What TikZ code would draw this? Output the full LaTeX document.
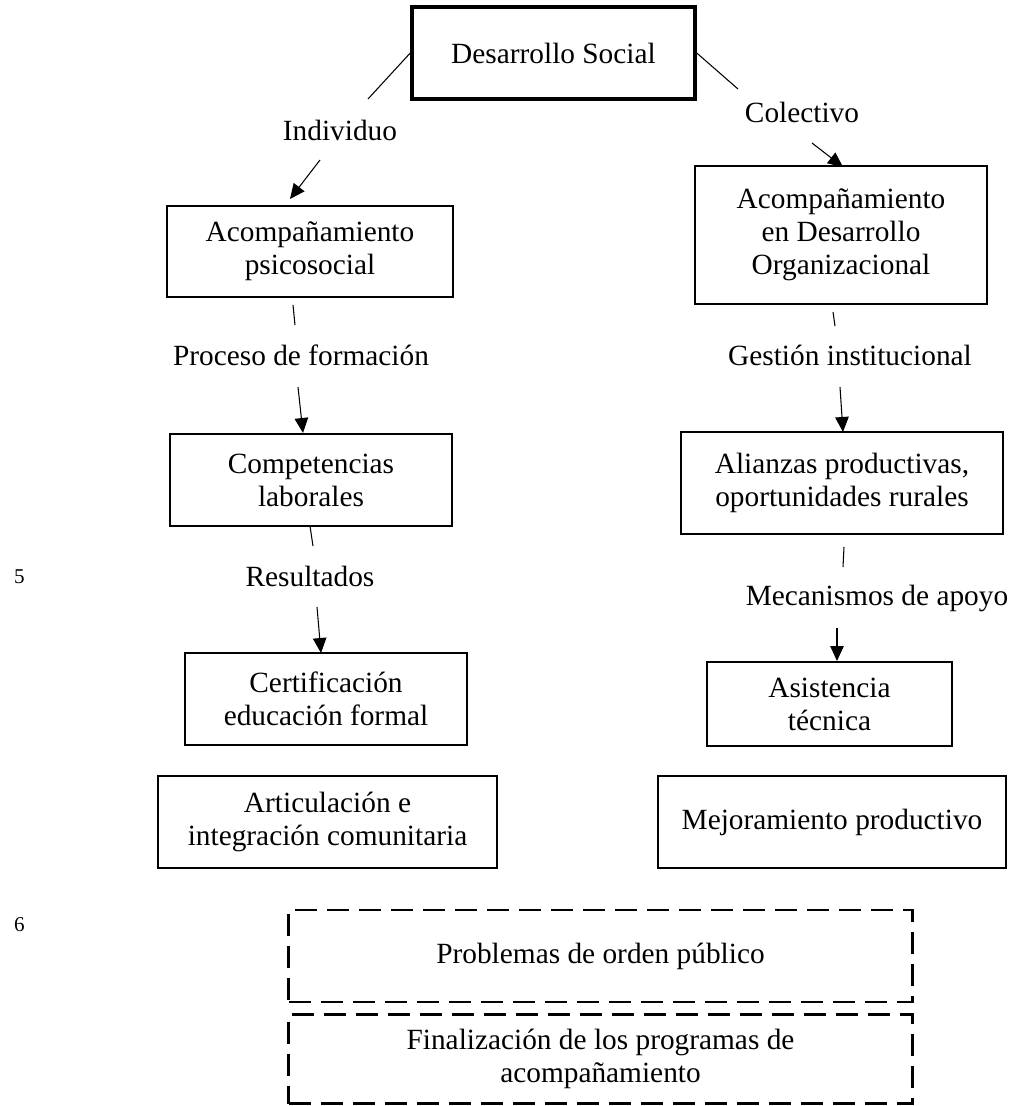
\documentclass[tikz,border=0pt]{standalone}
\usepackage{fontspec}
\setmainfont{Liberation Serif}
\usetikzlibrary{arrows.meta}

\newdimen\pxu
\pxu=0.02cm

\begin{document}
\begin{tikzpicture}
[
	              x = 0.02cm,
	              y = -0.02cm,
	             >= {Triangle[length=0.3cm,width=0.27cm]},
	     box/.style = { draw=black, line width=1.1pt, align=center, inner sep=0pt, font=\fontsize{16.7}{18.8}\selectfont },
	 mainbox/.style = { box, line width=2pt },
	 dashbox/.style = { box, line width=1.2pt, dash pattern=on 22\pxu off 10\pxu },
	     tag/.style = { font=\fontsize{16.7}{18.8}\selectfont },
	  margin/.style = { anchor=base west, font=\fontsize{12}{14}\selectfont },
	    link/.style = { line width=0.6pt }
]
	\useasboundingbox (0,0) rectangle (1014,1106);

	% top
	\node (DS) at (553.5,53) [mainbox, minimum width=283\pxu, minimum height=92\pxu] {Desarrollo Social};
	\node (IND) at (340,130) [tag] {Individuo};
	\node (COL) at (802,112) [tag] {Colectivo};

	% left column
	% nodes
	\node (PSI) at (310,251.5) [box, minimum width=286\pxu, minimum height=91\pxu] {Acompañamiento\\psicosocial};
	\node (PRO) at (301,355)   [tag] {Proceso de formación};
	\node (COM) at (311,480)   [box, minimum width=282\pxu, minimum height=92\pxu] {Competencias\\laborales};
	\node (RES) at (310,576)   [tag] {Resultados};
	\node (CER) at (326,699)   [box, minimum width=282\pxu, minimum height=92\pxu] {Certificación\\educación formal};
	\node (ART) at (327.5,822) [box, minimum width=339\pxu, minimum height=92\pxu] {Articulación e\\integración comunitaria};

	% right column
	% nodes
	\node (ORG) at (841,235)   [box, minimum width=292\pxu, minimum height=138\pxu] {Acompañamiento\\en Desarrollo\\Organizacional};
	\node (GES) at (850,355)   [tag] {Gestión institucional};
	\node (ALI) at (842,483)   [box, minimum width=322\pxu, minimum height=102\pxu] {Alianzas productivas,\\oportunidades rurales};
	\node (MEC) at (877,598)   [tag] {Mecanismos de apoyo};
	\node (ASI) at (829.5,704) [box, minimum width=245\pxu, minimum height=84\pxu] {Asistencia\\técnica};
	\node (MEJ) at (832,822)   [box, minimum width=348\pxu, minimum height=92\pxu] {Mejoramiento productivo};

	% bottom
	\node (PRB) at (600.5,956)  [dashbox, minimum width=624\pxu, minimum height=92\pxu] {Problemas de orden público};
	\node (FIN) at (600.5,1059) [dashbox, minimum width=624\pxu, minimum height=89\pxu] {Finalización de los programas de\\acompañamiento};

	% margin numbers
	\node (N5) at (8,583) [margin] {5};
	\node (N6) at (8,931) [margin] {6};

	% loose ends
	\coordinate (ind-a) at (368,99);
	\coordinate (ind-b) at (320,160);
	\coordinate (psi-in) at (290,199);
	\coordinate (col-a) at (738,89);
	\coordinate (col-b) at (812,143);
	\coordinate (org-in) at (843,167);
	\coordinate (psi-s) at (293,305);
	\coordinate (psi-out) at (295,325);
	\coordinate (pro-b) at (298,387);
	\coordinate (com-in) at (303,433);
	\coordinate (com-s) at (310,526);
	\coordinate (com-out) at (313,546);
	\coordinate (res-b) at (317,607);
	\coordinate (cer-in) at (321,653);
	\coordinate (org-s) at (833,312);
	\coordinate (org-out) at (835,326);
	\coordinate (ges-b) at (840,387);
	\coordinate (ali-in) at (843,432);
	\coordinate (ali-s) at (844,547);
	\coordinate (ali-out) at (843,567);
	\coordinate (mec-b) at (837,628);
	\coordinate (asi-in) at (837,661);

	% edges
	\draw [link] (DS.west) -- (ind-a);
	\draw [link, ->] (ind-b) -- (psi-in);
	\draw [link] (DS.east) -- (col-a);
	\draw [link, ->] (col-b) -- (org-in);
	\draw [link] (psi-s) -- (psi-out);
	\draw [link, ->] (pro-b) -- (com-in);
	\draw [link] (com-s) -- (com-out);
	\draw [link, ->] (res-b) -- (cer-in);
	\draw [link] (org-s) -- (org-out);
	\draw [link, ->] (ges-b) -- (ali-in);
	\draw [link] (ali-s) -- (ali-out);
	\draw [link, ->] (mec-b) -- (asi-in);
\end{tikzpicture}
\end{document}
